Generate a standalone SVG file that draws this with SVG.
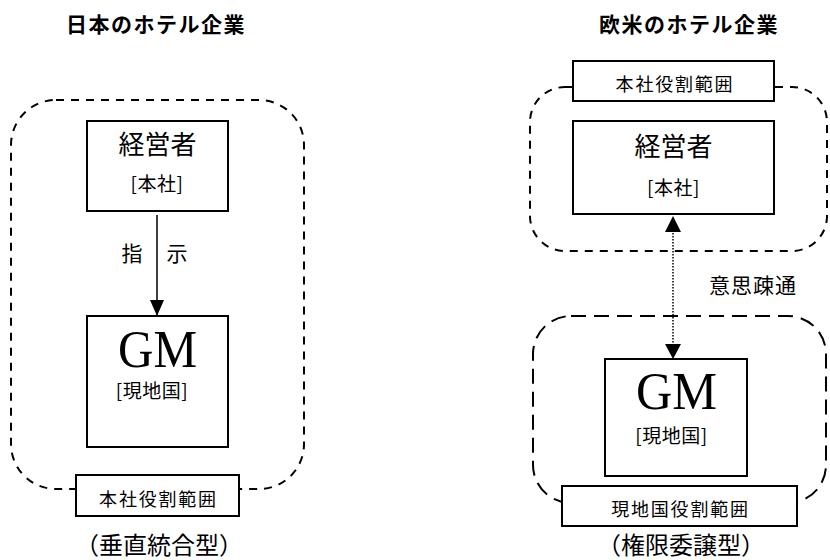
<svg xmlns="http://www.w3.org/2000/svg" width="830" height="560" viewBox="0 0 830 560">
<style>
.jp{font-family:"Noto Sans CJK JP","Noto Sans",sans-serif;fill:#000;text-anchor:middle}
.title{font-size:21px;font-weight:bold;letter-spacing:1.5px}
.big{font-size:26px}
.sub{font-size:19px;letter-spacing:0.5px}
.lbl{font-size:18px;letter-spacing:1.8px}
.cap{font-size:24px}
.mid{font-size:21px}
.gm{font-family:"Liberation Serif","Times New Roman",serif;font-size:52px;text-anchor:middle;fill:#000}
.box{fill:#fff;stroke:#000;stroke-width:2}
.region{fill:none;stroke:#000;stroke-width:2}
</style>
<defs>
<marker id="ah" viewBox="0 0 16 14" refX="16" refY="7" markerWidth="16" markerHeight="14" markerUnits="userSpaceOnUse" orient="auto">
<path d="M0,0 L16,7 L0,14 Z" fill="#000"/>
</marker>
</defs>
<rect width="830" height="560" fill="#fff"/>

<!-- titles -->
<text class="jp title" x="156" y="32">日本のホテル企業</text>
<text class="jp title" x="689" y="32">欧米のホテル企業</text>

<!-- regions -->
<g id="regions">
<rect class="region" x="11" y="100" width="293" height="389" rx="45" ry="45" stroke-dasharray="8 7"/>
<rect class="region" x="530" y="87" width="297" height="164" rx="35" ry="35" stroke-dasharray="8 7"/>
<rect class="region" x="533" y="316" width="293" height="187" rx="38" ry="38" stroke-dasharray="15 8"/>
</g>

<!-- connectors -->
<g id="connectors">
<line x1="157" y1="215" x2="157" y2="316" stroke="#000" stroke-width="1.5" marker-end="url(#ah)"/>
<line x1="673" y1="233" x2="673" y2="343" stroke="#000" stroke-width="1.5" stroke-dasharray="1.5 1.5"/>
<path d="M673,216 L681,232 L665,232 Z" fill="#000"/>
<path d="M673,359 L681,344 L665,344 Z" fill="#000"/>
<text class="jp mid" x="132" y="261">指</text>
<text class="jp mid" x="177" y="261">示</text>
<text class="jp mid" x="753" y="293" letter-spacing="1">意思疎通</text>
</g>

<!-- left side nodes -->
<g id="jp-ceo">
<rect class="box" x="87" y="121" width="141" height="90"/>
<text class="jp big" x="157.5" y="154">経営者</text>
<text class="jp sub" x="157" y="191">[本社]</text>
</g>
<g id="jp-gm">
<rect class="box" x="87" y="316" width="141" height="131"/>
<text class="gm" x="157.5" y="367" textLength="79" lengthAdjust="spacingAndGlyphs">GM</text>
<text class="jp sub" x="152" y="398">[現地国]</text>
</g>
<g id="jp-label">
<rect class="box" x="76" y="475" width="163" height="41"/>
<text class="jp lbl" x="158.5" y="506">本社役割範囲</text>
</g>
<text class="jp cap" x="159" y="554">（垂直統合型）</text>

<!-- right side nodes -->
<g id="us-label">
<rect class="box" x="573" y="61" width="201" height="40"/>
<text class="jp lbl" x="675" y="91">本社役割範囲</text>
</g>
<g id="us-ceo">
<rect class="box" x="573" y="121" width="201" height="93"/>
<text class="jp big" x="673.5" y="156">経営者</text>
<text class="jp sub" x="673.5" y="195">[本社]</text>
</g>
<g id="us-gm">
<rect class="box" x="605" y="359" width="142" height="117"/>
<text class="gm" x="676.5" y="409" textLength="81" lengthAdjust="spacingAndGlyphs">GM</text>
<text class="jp sub" x="671.5" y="443">[現地国]</text>
</g>
<g id="us-label2">
<rect class="box" x="562" y="486" width="235" height="40"/>
<text class="jp lbl" x="680.5" y="516">現地国役割範囲</text>
</g>
<text class="jp cap" x="681" y="554">（権限委譲型）</text>
</svg>
